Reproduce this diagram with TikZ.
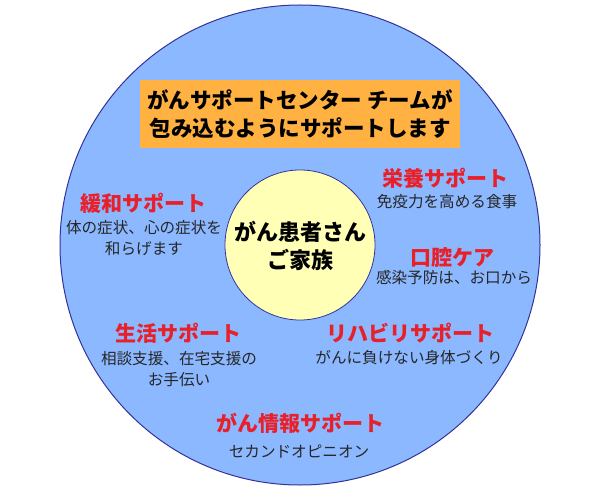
\documentclass[tikz,border=0pt]{standalone}
\usepackage{fontspec}
\setmainfont{Noto Sans CJK JP}
\usetikzlibrary{positioning}
\definecolor{skyfill}{HTML}{8CB8FF}
\definecolor{rimblue}{HTML}{33339A}
\definecolor{creamfill}{HTML}{FFFFB5}
\definecolor{tangerine}{HTML}{FFB142}
\definecolor{alertred}{HTML}{E8202A}

\begin{document}
\begin{tikzpicture}[x=1pt,y=-1pt,
  headtxt/.style={text=alertred, font=\fontsize{21}{24}\selectfont\bfseries, inner sep=0pt},
  notetxt/.style={text=black!85, font=\fontsize{15.6}{21}\selectfont, align=center, inner sep=0pt}]
\useasboundingbox (0,0) rectangle (600,500);
% outer ring and core
\draw[fill=skyfill, draw=rimblue, line width=1pt] (300,245) circle (240);
\fill[tangerine] (140,80) rectangle (460,148);
\node[font=\fontsize{21.5}{28}\selectfont\bfseries, align=center, inner sep=0pt] (banner) at (300,114)
  {がんサポートセンター チームが\\包み込むようにサポートします};
\draw[fill=creamfill, draw=rimblue, line width=0.8pt] (300,245) circle (75);
\node[font=\fontsize{22}{28}\selectfont\bfseries, align=center, inner sep=0pt] (family) at (300,246)
  {がん患者さん\\ご家族};
% support headings
\foreach \nm/\x/\y/\txt in {kanwa/143/203/緩和サポート,eiyou/445/178/栄養サポート,koukou/452/257/口腔ケア,
    seikatsu/178/333/生活サポート,riha/410/333/リハビリサポート,jouhou/300/423/がん情報サポート} {
  \node[headtxt] (\nm) at (\x,\y) {\txt};
}
% notes under headings
\foreach \nm/\x/\y/\txt in {kanwanote/144/238/体の症状、心の症状を\\和らげます,eiyounote/447/202/免疫力を高める食事,
    koukounote/454/278/感染予防は、お口から,seikatsunote/179/369/相談支援、在宅支援の\\お手伝い,
    rihanote/409/358/がんに負けない身体づくり,jouhounote/299/452/セカンドオピニオン} {
  \node[notetxt] (\nm) at (\x,\y) {\txt};
}
\end{tikzpicture}
\end{document}
